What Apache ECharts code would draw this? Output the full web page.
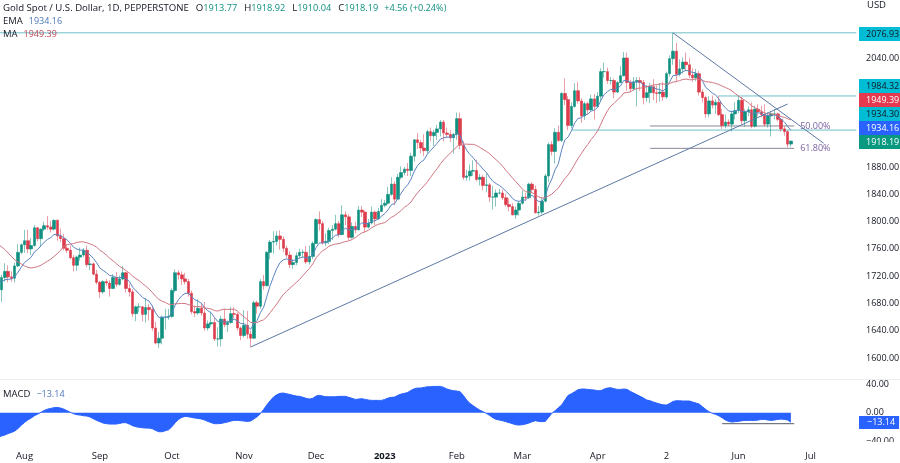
<!DOCTYPE html>
<html>
<head>
<meta charset="utf-8">
<title>Gold Spot / U.S. Dollar</title>
<script src="https://cdn.jsdelivr.net/npm/echarts@6/dist/echarts.min.js"></script>
<style>
    html, body { margin: 0; padding: 0; background: #fff; }
    #chart { width: 900px; height: 463px; }
</style>
</head>
<body>
<div id="chart"></div>
<script>
// Month labels and the bar each one sits on
const tickIndexes = [8, 31, 53, 75, 97, 118, 140, 160, 183, 204, 226, 248];
const tickLabels = ['Aug', 'Sep', 'Oct', 'Nov', 'Dec', '2023', 'Feb', 'Mar', 'Apr', '2', 'Jun', 'Jul'];
const barSlots = 263;

// Axis labels
const priceTicks = [1600, 1640, 1680, 1720, 1760, 1800, 1840, 1880, 2040];
const macdTicks = [-40, 0, 40];

// Daily candles, the first one sits just off the left edge
const opens = [
    1695,1700,1718,1727,1719,1717,1735,1755,1766,1772,1760,1765,1791,1775,1789,1794,1792,1789,1802,1779,1775,
    1761,1758,1747,1736,1748,1751,1758,1737,1738,1723,1711,1697,1712,1710,1702,1718,1708,1716,1725,1702,
    1697,1665,1675,1675,1664,1674,1671,1644,1622,1629,1660,1660,1661,1699,1725,1722,1716,1712,1695,1668,
    1666,1673,1666,1644,1650,1652,1628,1628,1657,1649,1652,1665,1664,1644,1633,1648,1635,1629,1681,1676,
    1712,1706,1755,1770,1771,1779,1774,1761,1751,1737,1740,1750,1755,1755,1741,1749,1768,1803,1797,1769,
    1771,1787,1789,1797,1781,1810,1807,1777,1793,1788,1817,1814,1792,1798,1814,1804,1815,1824,1827,1840,
    1855,1833,1865,1872,1877,1875,1896,1920,1916,1908,1904,1932,1926,1931,1936,1946,1930,1928,1923,1928,
    1951,1912,1865,1867,1874,1875,1862,1865,1853,1854,1836,1836,1842,1842,1835,1825,1822,1810,1817,1827,
    1836,1835,1855,1847,1813,1814,1830,1867,1913,1903,1931,1919,1988,1979,1941,1969,1992,1977,1955,1973,
    1964,1980,1969,1984,2020,2020,2007,2007,1990,2004,2014,2040,2004,1995,2005,2007,2004,1982,1989,1998,
    1989,1988,1990,1983,2017,2039,2050,2016,2024,2034,2030,2015,2011,2017,1990,1982,1958,1977,1971,1975,
    1957,1941,1946,1943,1958,1963,1978,1948,1961,1964,1940,1965,1961,1957,1943,1955,1958,1958,1950,1936,
    1932,1913.77
];
const highs = [
    1704,1722,1739,1736,1727,1740,1767,1768,1788,1788,1776,1795,1792,1790,1800,1808,1801,1803,1803,1790,1782,
    1767,1765,1751,1750,1762,1761,1765,1748,1740,1729,1713,1714,1716,1714,1723,1726,1721,1735,1726,1709,
    1701,1677,1680,1676,1688,1679,1677,1653,1638,1662,1672,1672,1702,1730,1729,1727,1725,1716,1699,1677,
    1686,1681,1682,1655,1668,1660,1645,1662,1672,1655,1675,1675,1667,1646,1670,1669,1640,1684,1684,1716,
    1722,1757,1773,1786,1786,1787,1778,1765,1757,1745,1755,1760,1759,1764,1765,1771,1805,1815,1801,1783,
    1791,1795,1810,1801,1824,1815,1811,1799,1800,1823,1823,1816,1804,1822,1816,1820,1833,1832,1851,1865,
    1859,1870,1881,1880,1886,1901,1921,1930,1920,1928,1935,1938,1935,1942,1949,1949,1938,1934,1930,1960,
    1960,1918,1876,1884,1890,1891,1870,1868,1871,1857,1852,1847,1848,1847,1841,1834,1827,1822,1830,1846,
    1842,1857,1858,1853,1823,1835,1870,1916,1918,1937,1941,1990,2010,1984,1975,2003,2005,1981,1976,1976,
    1986,1987,1990,2025,2033,2026,2012,2010,2006,2028,2049,2048,2008,2012,2012,2012,2008,2000,2003,2009,
    2000,2003,2005,2020,2044,2077,2062,2038,2041,2048,2040,2025,2024,2021,1994,1985,1984,1985,1979,1985,
    1965,1957,1950,1963,1975,1984,1983,1965,1969,1975,1970,1972,1970,1972,1960,1962,1965,1960,1952,1940,
    1934,1918.92
];
const lows = [
    1690,1682,1712,1711,1712,1711,1733,1752,1754,1754,1751,1763,1771,1763,1786,1788,1784,1787,1772,1770,1758,
    1754,1745,1727,1728,1743,1748,1733,1729,1721,1708,1688,1694,1706,1690,1701,1704,1706,1714,1696,1690,
    1660,1654,1667,1654,1652,1655,1640,1620,1615,1620,1642,1656,1659,1696,1715,1707,1708,1690,1664,1660,
    1663,1662,1640,1640,1646,1625,1617,1617,1645,1638,1650,1658,1640,1626,1630,1628,1616,1628,1665,1672,
    1700,1705,1745,1753,1765,1759,1755,1747,1732,1731,1736,1746,1748,1738,1737,1745,1767,1787,1766,1764,
    1767,1773,1787,1777,1780,1795,1773,1775,1783,1787,1807,1784,1790,1796,1795,1803,1814,1821,1825,1838,
    1824,1832,1862,1868,1867,1867,1888,1907,1900,1896,1900,1918,1911,1920,1925,1918,1923,1917,1900,1920,
    1906,1861,1860,1860,1867,1859,1853,1846,1843,1829,1818,1822,1840,1832,1822,1815,1809,1804,1809,1825,
    1830,1833,1843,1812,1809,1811,1828,1858,1897,1885,1917,1917,1971,1934,1937,1967,1973,1945,1949,1957,
    1963,1950,1967,1976,2011,2002,2001,1981,1989,2003,2013,1992,1990,1992,1969,1992,1972,1976,1974,1978,
    1974,1976,1977,1980,2013,2030,2005,2013,2017,2021,2010,2005,2006,1985,1975,1952,1953,1966,1958,1955,
    1936,1937,1940,1932,1950,1959,1943,1939,1955,1937,1938,1954,1953,1940,1938,1925,1950,1947,1932,1926,
    1909,1910.04
];
const closes = [
    1700,1718,1727,1719,1717,1735,1755,1766,1772,1760,1765,1791,1775,1789,1794,1792,1789,1802,1779,1775,1761,
    1758,1747,1736,1748,1751,1758,1737,1738,1723,1711,1697,1712,1710,1702,1718,1708,1716,1725,1702,1697,
    1665,1675,1675,1664,1674,1671,1644,1622,1629,1660,1660,1661,1699,1725,1722,1716,1712,1695,1668,1666,
    1673,1666,1644,1650,1652,1628,1628,1657,1649,1652,1665,1664,1644,1633,1648,1635,1629,1681,1676,1712,
    1706,1755,1770,1771,1779,1774,1761,1751,1737,1740,1750,1755,1755,1741,1749,1768,1803,1797,1769,1771,
    1787,1789,1797,1781,1810,1807,1777,1793,1788,1817,1814,1792,1798,1814,1804,1815,1824,1827,1840,1855,
    1833,1865,1872,1877,1875,1896,1920,1916,1908,1904,1932,1926,1931,1936,1946,1930,1928,1923,1928,1951,
    1912,1865,1867,1874,1875,1862,1865,1853,1854,1836,1836,1842,1842,1835,1825,1822,1810,1817,1827,1836,
    1835,1855,1847,1813,1814,1830,1867,1913,1903,1931,1919,1988,1979,1941,1969,1992,1977,1955,1973,1964,
    1980,1969,1984,2020,2020,2007,2007,1990,2004,2014,2040,2004,1995,2005,2007,2004,1982,1989,1998,1989,
    1988,1990,1983,2017,2039,2050,2016,2024,2034,2030,2015,2011,2017,1990,1982,1958,1977,1971,1975,1957,
    1941,1946,1943,1958,1963,1978,1948,1961,1964,1940,1965,1961,1957,1943,1955,1958,1958,1950,1936,1932,
    1913.63,1918.19
];

// Blue EMA
const emaValues = [
    1711,1712,1714.7,1715.5,1715.8,1719.3,1725.8,1733.1,1740.2,1743.8,1747.7,1755.6,1759.1,1764.5,1769.9,1773.9,1776.6,1781.2,1780.8,1779.7,1776.3,
    1773,1768.3,1762.4,1759.8,1758.2,1758.2,1754.3,1751.3,1746.2,1739.8,1732,1728.4,1725.1,1720.9,1720.4,1718.1,1717.7,1719,1715.9,1712.5,
    1703.9,1698.6,1694.3,1688.8,1686.1,1683.4,1676.2,1666.3,1659.5,1659.6,1659.7,1659.9,1667,1677.5,1685.6,1691.1,1694.9,1694.9,1690,1685.6,
    1683.3,1680.2,1673.6,1669.3,1666.2,1659.3,1653.6,1654.2,1653.3,1653.1,1655.3,1656.9,1654.6,1650.7,1650.2,1647.4,1642,1649.8,1655,1666.4,
    1674.3,1690.4,1706.3,1719.2,1731.2,1739.8,1744,1745.4,1743.7,1743,1744.4,1746.5,1748.2,1746.8,1747.2,1751.4,1761.7,1768.8,1768.8,1769.2,
    1772.8,1776,1780.2,1780.4,1786.3,1790.4,1787.7,1788.8,1788.6,1794.3,1798.2,1797,1797.2,1800.6,1801.3,1804,1808,1811.8,1817.4,1824.9,
    1826.5,1834.2,1841.8,1848.8,1854,1862.4,1873.9,1882.3,1887.4,1890.7,1899,1904.4,1909.7,1915,1921.2,1923,1924,1923.8,1924.6,1929.9,
    1926.3,1914,1904.6,1898.5,1893.8,1887.4,1882.9,1876.9,1872.3,1865,1859.2,1855.8,1853,1849.4,1844.5,1840,1834,1830.6,1829.9,1831.1,
    1831.9,1836.5,1838.6,1833.5,1829.6,1829.7,1837.2,1852.4,1862.5,1876.2,1884.8,1905.4,1920.1,1924.3,1933.2,1945,1951.4,1952.1,1956.3,1957.8,
    1962.2,1963.6,1967.7,1978.2,1986.6,1990.7,1994,1993.2,1995.4,1999.1,2007.3,2006.6,2004.3,2004.4,2004.9,2004.7,2000.2,1998,1998,1996.2,
    1994.6,1993.7,1991.6,1996.7,2005.2,2014.2,2014.6,2016.5,2020,2022,2020.6,2018.7,2018.4,2012.7,2006.6,1996.9,1992.9,1988.5,1985.8,1980,
    1972.2,1967,1962.2,1961.4,1961.7,1965,1961.6,1961.5,1962,1957.6,1959.1,1959.5,1959,1955.8,1955.6,1956.1,1956.5,1955,1950.4,1946.2,
    1939.7,1934.16
];

// Red MA
const maValues = [
    1766,1763,1759,1754,1749,1744,1741,1738,1735,1733,1732,1733,1734,1736,1739,1742,1745,1749,1753,1758,1764.1,
    1766.1,1767.1,1767.9,1769.5,1770.3,1770.4,1769,1767.3,1765.4,1762.7,1758,1754.9,1750.9,1746.3,1742.6,1738.6,1734.3,1731.6,1727.9,1724.7,
    1720.1,1716.5,1713.4,1709.2,1705.4,1701,1696.4,1690.6,1685.9,1683.3,1681.5,1678.9,1678.4,1679.5,1679.7,1680.1,1679.9,1678.4,1676.7,1675.2,
    1675.6,1675.1,1673.6,1672.9,1671.8,1669.6,1668.8,1670.6,1671.6,1671.2,1671.4,1671.6,1668.8,1664.2,1660.5,1656.5,1652.3,1651.6,1652,1654.3,
    1656,1660.4,1666.7,1672.8,1679.1,1686.4,1693.1,1697.8,1702.2,1706.6,1710.8,1715.4,1720.9,1726.3,1731.4,1738,1746.7,1752.5,1757.2,1760.1,
    1764.2,1765.9,1767.2,1767.7,1769.3,1770.9,1771.7,1773.8,1776.4,1780.2,1783.4,1785.3,1787.4,1791.1,1793.8,1796.2,1797.2,1798.7,1802.3,1806.5,
    1808.8,1812.6,1816.3,1821.1,1824.4,1828.8,1836,1842.1,1848.1,1852.5,1858.4,1865.1,1871.7,1877.8,1884.9,1890.7,1895.9,1900.7,1905.1,1909.9,
    1913.8,1913.8,1913.6,1913.4,1913.4,1911.7,1909,1905.8,1903.1,1899.7,1894.9,1890.7,1886.3,1881.2,1875.2,1869.8,1863.9,1858.6,1853.5,1847.8,
    1843.9,1843.4,1842.4,1839.4,1836.3,1834.7,1834.8,1837.8,1840.3,1845,1849.2,1856.5,1863.3,1868.6,1875.8,1884.3,1892.7,1899.6,1906.9,1913.3,
    1920.5,1926.2,1933.1,1943.4,1953.7,1962.6,1969.6,1973.4,1978.5,1982.6,1988.7,1989.5,1990.3,1993.5,1995.4,1996,1996.2,1997.9,1999.2,2000.4,
    2000.8,2001.9,2001.8,2001.7,2002.6,2004.8,2005.2,2006.9,2008.4,2009.2,2008,2008.3,2009.4,2008.7,2007.4,2005.1,2004.9,2004,2002.8,2001.2,
    1998.9,1996.7,1994.7,1991.7,1987.9,1984.3,1980.9,1977.8,1974.3,1969.8,1967.3,1964.8,1961.8,1959.4,1958.1,1958.1,1957.1,1956.1,1954.1,1952.9,
    1951,1949.39
];

// MACD area
const macdValues = [
    -33.5,-32.5,-31,-29,-27.5,-25.5,-22,-17.5,-13.5,-10,-7.5,-4.2,-2,0.5,3.2,5,6,7,7.4,6.5,5,
    2.8,0.5,-1.4,-2.8,-3.3,-4.2,-4.6,-6,-8.4,-10.7,-12.5,-14.4,-15.3,-15.8,-15.8,-15.8,-14.9,-13.9,-13.9,-15.8,
    -18.1,-19.5,-20.4,-20.9,-21.4,-21.4,-22.3,-24.6,-26.5,-26.5,-25.1,-23.7,-19.5,-13.9,-9.3,-6.5,-5.1,-5.6,-6.5,-7.4,
    -7.9,-8.8,-10.2,-12.1,-13.9,-15.3,-15.3,-14.9,-13.9,-13,-11.6,-10.7,-10.7,-11.1,-11.6,-12.1,-11.6,-8.8,-5.6,-1.4,
    4.6,11,16.7,21.8,25,27,27.4,26.5,25.5,24.2,23.2,22.8,21.4,20,19,20,23.2,24.2,23.2,22.3,
    22.3,22.3,22.3,22.8,22.8,22.8,21.4,20,18.6,19,19.5,18.6,17.7,17.2,17.2,17.2,17.2,18.6,20.4,21.4,
    21.8,24.2,26,27,28.3,31.1,33.5,34.4,34.4,35.3,36.2,36.2,36.7,36.7,36.7,35.3,33,31.6,30.7,30.2,
    29.3,24,17.7,13,9.8,6.5,3.7,1.4,-0.9,-3.7,-7,-9.3,-10.2,-11.2,-12.5,-13.9,-15.3,-16.7,-17.2,-16.7,
    -15.8,-14.4,-12.5,-11.2,-12.1,-12.5,-12.1,-6.5,-0.9,2.8,7,10.7,17.7,24.2,26.5,29.3,32,33,33,32.5,
    32,31.6,30.7,30.7,33,34.4,34.8,33.5,32.5,32.5,33,32.5,29.7,27.4,25,22.8,20.4,17.7,16.7,14.9,
    13.5,12,11,10.7,13,15.8,16.7,16.7,16.3,16.3,16.3,14.9,13.5,12,8.4,4.6,1.4,-0.9,-2.3,-4.2,
    -7,-10.2,-12.1,-13,-12.5,-12.1,-11.2,-10.7,-10.7,-10.7,-10.7,-10.2,-9.3,-9.3,-10.2,-10.7,-10.2,-9.3,-8.8,-9.3,
    -10.2,-13.14
];

// Drawn levels and trend lines: [bar, value] pairs
const peakLevel = [[0, 2076.93], [262, 2076.93]];
const upperLevel = [[220, 1984.32], [262, 1984.32]];
const lowerLevel = [[175, 1934.30], [262, 1934.30]];
const fibFifty = [[199, 1940.3], [243, 1940.3]];
const fibSixtyOne = [[199, 1907.5], [243, 1907.5]];
const riseLine = [[77, 1616], [241, 1972.5]];
const fallLine = [[206, 2076.93], [252, 1915]];
const macdFloor = [[221, -15.3], [243, -15.3]];

// Colours
const upColor = '#0f9080';
const downColor = '#dc3c4c';
const levelColor = '#6cc0c8';
const trendColor = '#5d78a6';
const fibColor = '#8a8798';
const fibText = '#7a5fa0';
const inkColor = '#131722';
const macdColor = '#2962ff';

document.addEventListener('DOMContentLoaded', () => {
    const chart = echarts.init(document.getElementById('chart'), null, { renderer: 'canvas' });
    chart.setOption(buildOption());
});

// Category list with only the month bars labelled
function buildCategories() {
    const categories = new Array(barSlots).fill('');
    tickIndexes.forEach((barIndex, i) => {
        categories[barIndex] = tickLabels[i];
    });
    return categories;
}

// A thin straight segment on the price or MACD axes
function segment(points, color, axisIndex, labelText) {
    const series = {
        type: 'line',
        data: points,
        xAxisIndex: axisIndex,
        yAxisIndex: axisIndex,
        symbol: 'none',
        silent: true,
        z: 1,
        lineStyle: { color: color, width: 1 }
    };
    if (labelText) {
        series.endLabel = {
            show: true,
            formatter: labelText,
            color: fibText,
            fontFamily: 'Open Sans',
            fontSize: 9,
            distance: 6
        };
    }
    return series;
}

// Coloured value tag in the right axis strip
function axisTag(text, top, fill, ink, height, inset) {
    return {
        type: 'text',
        left: 859,
        top: top,
        z: 20,
        style: {
            text: text,
            fill: ink,
            backgroundColor: fill,
            font: '9px "Open Sans"',
            lineHeight: height,
            padding: [0, 4, 0, inset]
        }
    };
}

// Legend lines at the top left
function legendTitles() {
    const plain = { fontFamily: 'Open Sans', fontWeight: 'normal' };
    const word = Object.assign({ fontSize: 9.6, color: inkColor }, plain);
    const small = Object.assign({ fontSize: 9.5, color: inkColor }, plain);
    const letter = Object.assign({ fontSize: 9.6, color: inkColor, padding: [0, 0, 0, 7] }, plain);
    const up = Object.assign({ fontSize: 9.2, color: upColor }, plain);
    const blue = Object.assign({ fontSize: 9, color: '#4a76b8', padding: [0, 0, 0, 6] }, plain);
    const red = Object.assign({ fontSize: 9, color: '#c0475a', padding: [0, 0, 0, 6] }, plain);
    const makeTitle = (text, top, rich) => ({
        text: text,
        left: 3,
        top: top,
        padding: 0,
        textStyle: { rich: rich, fontSize: 10, fontWeight: 'normal', lineHeight: 13 }
    });
    return [
        makeTitle('{w|Gold Spot / U.S. Dollar, 1D, PEPPERSTONE}{l|O}{u|1913.77}{l|H}{u|1918.92}{l|L}{u|1910.04}{l|C}{u|1918.19}{l2|+4.56 (+0.24%)}', 2, {
            w: word,
            l: letter,
            u: up,
            l2: Object.assign({}, up, { padding: [0, 0, 0, 6] })
        }),
        makeTitle('{i|EMA}{b|1934.16}', 15, { i: small, b: blue }),
        makeTitle('{i|MA}{r|1949.39}', 28, { i: small, r: red }),
        makeTitle('{i|MACD}{b|\u221213.14}', 388, { i: small, b: blue })
    ];
}

// Full chart option
function buildOption() {
    const categories = buildCategories();
    const wickData = opens.map((open, i) => [open, closes[i], lows[i], highs[i]]);
    const bodyData = opens.map((open, i) => [open, closes[i], Math.min(open, closes[i]), Math.max(open, closes[i])]);
    const axisFont = { fontFamily: 'Open Sans', fontSize: 9, color: inkColor };

    return {
        animation: false,
        backgroundColor: '#ffffff',
        title: legendTitles(),
        grid: [
            { left: -3.275, top: 0, width: 861.3, height: 379, outerBoundsMode: 'none' },
            { left: -3.275, top: 380, width: 861.3, height: 62, outerBoundsMode: 'none' }
        ],
        xAxis: [
            {
                type: 'category',
                gridIndex: 0,
                data: categories,
                axisLine: { show: false },
                axisTick: { show: false },
                axisLabel: { show: false },
                splitLine: { show: false }
            },
            {
                type: 'category',
                gridIndex: 1,
                data: categories,
                axisLine: { show: false, onZero: false },
                axisTick: { show: false },
                axisLabel: {
                    interval: 0,
                    margin: 9,
                    fontFamily: 'Open Sans',
                    fontSize: 9.5,
                    color: inkColor,
                    formatter: (value) => (value === '2023' ? '{bold|2023}' : value),
                    rich: { bold: { fontFamily: 'Open Sans', fontSize: 9.5, fontWeight: 'bold', color: inkColor } }
                },
                splitLine: { show: false }
            }
        ],
        yAxis: [
            {
                type: 'value',
                gridIndex: 0,
                position: 'right',
                min: 1569.2,
                max: 2125.07,
                axisLine: { show: false },
                axisTick: { show: false },
                splitLine: { show: false },
                axisLabel: Object.assign({}, axisFont, {
                    margin: 8,
                    customValues: priceTicks,
                    formatter: (value) => value.toFixed(2)
                })
            },
            {
                type: 'value',
                gridIndex: 1,
                position: 'right',
                min: -40.8,
                max: 45.6,
                axisLine: { show: false },
                axisTick: { show: false },
                splitLine: { show: false },
                axisLabel: Object.assign({}, axisFont, {
                    margin: 8,
                    customValues: macdTicks,
                    formatter: (value) => value.toFixed(2).replace('-', '\u2212')
                })
            }
        ],
        series: [
            segment(peakLevel, levelColor, 0),
            segment(upperLevel, levelColor, 0),
            segment(lowerLevel, levelColor, 0),
            segment(fibFifty, fibColor, 0, '50.00%'),
            segment(fibSixtyOne, fibColor, 0, '61.80%'),
            {
                type: 'candlestick',
                data: wickData,
                barWidth: 1,
                z: 2,
                silent: true,
                itemStyle: {
                    color: 'rgba(15,144,128,0.5)',
                    color0: 'rgba(220,60,76,0.5)',
                    borderColor: 'rgba(15,144,128,0.5)',
                    borderColor0: 'rgba(220,60,76,0.5)',
                    borderWidth: 1
                }
            },
            {
                type: 'candlestick',
                data: bodyData,
                barWidth: 3,
                z: 3,
                silent: true,
                itemStyle: {
                    color: upColor,
                    color0: downColor,
                    borderColor: upColor,
                    borderColor0: downColor,
                    borderWidth: 0.6
                }
            },
            {
                type: 'line',
                name: 'EMA',
                data: emaValues,
                symbol: 'none',
                z: 4,
                silent: true,
                lineStyle: { color: '#5a84c0', width: 1 }
            },
            {
                type: 'line',
                name: 'MA',
                data: maValues,
                symbol: 'none',
                z: 4,
                silent: true,
                lineStyle: { color: '#cf7580', width: 1 }
            },
            Object.assign(segment(riseLine, trendColor, 0), { z: 5 }),
            Object.assign(segment(fallLine, trendColor, 0), { z: 5 }),
            {
                type: 'line',
                name: 'MACD',
                data: macdValues,
                xAxisIndex: 1,
                yAxisIndex: 1,
                symbol: 'none',
                silent: true,
                lineStyle: { color: macdColor, width: 1 },
                areaStyle: { color: macdColor, opacity: 1, origin: 0 }
            },
            Object.assign(segment(macdFloor, '#555a66', 1), { z: 5 })
        ],
        graphic: [
            // Pane separator and the clipped strip under the MACD scale
            { type: 'line', z: 15, shape: { x1: 0, y1: 379.5, x2: 900, y2: 379.5 }, style: { stroke: '#eceef2', lineWidth: 1 } },
            { type: 'rect', z: 15, shape: { x: 859, y: 442, width: 41, height: 12 }, style: { fill: '#ffffff' } },
            { type: 'text', right: 14, top: 0, z: 20, style: { text: 'USD', fill: inkColor, font: '9.5px "Open Sans"' } },
            axisTag('2076.93', 27, '#00bcd4', inkColor, 14, 7),
            axisTag('1984.32', 79, '#00bcd4', inkColor, 14, 7),
            axisTag('1949.39', 93, '#e53950', '#ffffff', 14, 7),
            axisTag('1934.30', 107, '#00bcd4', inkColor, 14, 7),
            axisTag('1934.16', 121, '#2962ff', '#ffffff', 14, 7),
            axisTag('1918.19', 135, '#089981', '#ffffff', 14, 7),
            axisTag('\u221213.14', 416, '#2962ff', '#ffffff', 13, 8)
        ]
    };
}
</script>
</body>
</html>
